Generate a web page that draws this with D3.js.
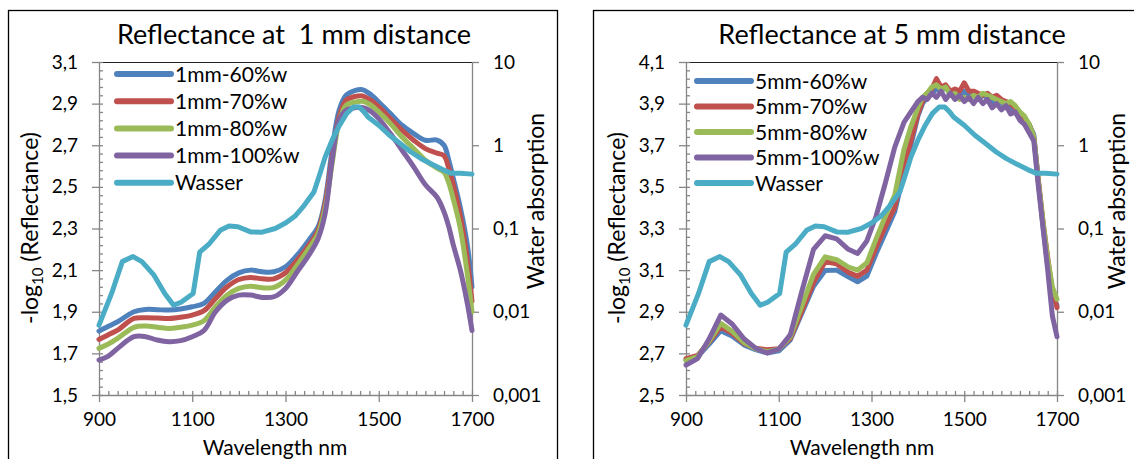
<!DOCTYPE html>
<html>
<head>
<meta charset="utf-8">
<script src="https://cdn.jsdelivr.net/npm/d3@7"></script>
<style>
  body { margin: 0; background: #fff; }
  svg text { font-family: Lato, "Open Sans", sans-serif; fill: #000; }
  .axis path, .axis line { stroke: #868686; stroke-width: 1.3px; }
  .axis text { font-size: 19px; }
  .line { fill: none; stroke-width: 5px; stroke-linejoin: round; stroke-linecap: round; }
</style>
</head>
<body>
<svg id="chart" width="1134" height="459"></svg>
<script>
// ---- data ----
var wl1mm = [900, 920, 940, 975, 1000, 1025, 1050, 1075, 1100, 1125, 1150, 1175, 1200, 1225, 1250, 1275, 1300, 1325, 1350, 1370,
  1385, 1400, 1415, 1430, 1450, 1465, 1480, 1500, 1525, 1550, 1575, 1600, 1625, 1640, 1650, 1660, 1675, 1690, 1700];
var mm1_60 = [1.807, 1.83, 1.852, 1.90, 1.911, 1.91, 1.908, 1.913, 1.924, 1.94, 1.996, 2.052, 2.087, 2.10, 2.092, 2.092, 2.116, 2.172, 2.244, 2.308,
  2.436, 2.676, 2.868, 2.94, 2.964, 2.967, 2.948, 2.908, 2.852, 2.796, 2.756, 2.724, 2.725, 2.70, 2.63, 2.54, 2.40, 2.22, 2.02];
var mm1_70 = [1.767, 1.79, 1.812, 1.868, 1.871, 1.87, 1.868, 1.874, 1.884, 1.905, 1.964, 2.02, 2.055, 2.065, 2.058, 2.058, 2.087, 2.148, 2.22, 2.292,
  2.42, 2.644, 2.836, 2.916, 2.935, 2.937, 2.92, 2.884, 2.828, 2.772, 2.724, 2.684, 2.662, 2.65, 2.59, 2.51, 2.36, 2.15, 1.95];
var mm1_80 = [1.724, 1.745, 1.772, 1.825, 1.831, 1.826, 1.82, 1.826, 1.836, 1.857, 1.924, 1.98, 2.012, 2.023, 2.015, 2.017, 2.052, 2.124, 2.204, 2.276,
  2.396, 2.612, 2.812, 2.892, 2.908, 2.911, 2.897, 2.86, 2.804, 2.74, 2.684, 2.628, 2.59, 2.57, 2.52, 2.44, 2.30, 2.08, 1.90];
var mm1_100 = [1.668, 1.687, 1.724, 1.78, 1.78, 1.764, 1.756, 1.761, 1.78, 1.81, 1.9, 1.956, 1.98, 1.98, 1.969, 1.972, 2.012, 2.092, 2.172, 2.252,
  2.372, 2.628, 2.82, 2.868, 2.881, 2.881, 2.868, 2.828, 2.756, 2.676, 2.596, 2.51, 2.45, 2.38, 2.31, 2.22, 2.10, 1.94, 1.81];

var wl5mm = [900, 925, 950, 975, 1000, 1025, 1050, 1075, 1100, 1125, 1150, 1175, 1200, 1225, 1250, 1270, 1290, 1310, 1330, 1350,
  1370, 1385, 1400, 1410, 1420, 1430, 1440, 1450, 1460, 1470, 1480, 1490, 1500, 1510, 1520, 1530, 1540, 1550, 1560, 1570,
  1580, 1590, 1600, 1610, 1620, 1630, 1640, 1650, 1660, 1670, 1680, 1690, 1700];
var mm5_60 = [2.668, 2.685, 2.745, 2.809, 2.782, 2.741, 2.718, 2.702, 2.712, 2.765, 2.894, 3.023, 3.098, 3.10, 3.068, 3.044, 3.071, 3.18, 3.28, 3.38,
  3.57, 3.70, 3.84, 3.90, 3.93, 3.95, 3.97, 3.96, 3.98, 3.95, 3.96, 3.93, 3.96, 3.94, 3.95, 3.92, 3.94, 3.93, 3.91, 3.90,
  3.91, 3.88, 3.89, 3.86, 3.85, 3.83, 3.80, 3.75, 3.52, 3.31, 3.12, 2.98, 2.93];
var mm5_70 = [2.675, 2.69, 2.755, 2.828, 2.795, 2.748, 2.725, 2.718, 2.722, 2.772, 2.905, 3.04, 3.14, 3.13, 3.09, 3.07, 3.10, 3.21, 3.31, 3.40,
  3.60, 3.72, 3.85, 3.91, 3.95, 3.97, 4.02, 3.98, 3.99, 3.96, 3.97, 3.96, 4.00, 3.96, 3.96, 3.95, 3.94, 3.95, 3.93, 3.94,
  3.92, 3.91, 3.90, 3.88, 3.85, 3.83, 3.80, 3.74, 3.53, 3.33, 3.16, 3.00, 2.92];
var mm5_80 = [2.665, 2.685, 2.76, 2.844, 2.805, 2.752, 2.722, 2.708, 2.72, 2.78, 2.93, 3.08, 3.164, 3.15, 3.115, 3.10, 3.135, 3.25, 3.36, 3.46,
  3.68, 3.79, 3.88, 3.93, 3.95, 3.98, 3.99, 3.97, 3.98, 3.94, 3.95, 3.92, 3.93, 3.92, 3.94, 3.93, 3.95, 3.94, 3.93, 3.92,
  3.91, 3.90, 3.91, 3.89, 3.86, 3.84, 3.80, 3.74, 3.52, 3.33, 3.15, 3.02, 2.96];
var mm5_100 = [2.644, 2.675, 2.77, 2.884, 2.84, 2.77, 2.725, 2.702, 2.72, 2.79, 3.00, 3.20, 3.265, 3.25, 3.20, 3.18, 3.24, 3.36, 3.52, 3.69,
  3.81, 3.86, 3.91, 3.93, 3.92, 3.95, 3.93, 3.96, 3.92, 3.95, 3.92, 3.94, 3.91, 3.93, 3.90, 3.93, 3.90, 3.92, 3.88, 3.90,
  3.87, 3.89, 3.85, 3.86, 3.82, 3.80, 3.76, 3.72, 3.50, 3.30, 3.10, 2.88, 2.78];

// water absorption (secondary, log axis) - same in both charts
var wlWater = [900, 927, 950, 973, 992, 1018, 1041, 1060, 1076, 1102, 1116, 1137, 1160, 1179, 1198, 1225, 1248, 1278, 1301, 1320,
  1339, 1361, 1374, 1385, 1400, 1416, 1431, 1446, 1458, 1469, 1477, 1500, 1523, 1546, 1569, 1591, 1614, 1637, 1656, 1675, 1700];
var water = [0.0069, 0.0166, 0.040, 0.046, 0.040, 0.0275, 0.0166, 0.012, 0.013, 0.0166, 0.052, 0.066, 0.095, 0.107, 0.105, 0.091, 0.090, 0.100, 0.117, 0.14,
  0.186, 0.275, 0.457, 0.72, 1.15, 1.74, 2.4, 2.88, 2.88, 2.5, 2.19, 1.74, 1.32, 1.05, 0.83, 0.69, 0.59, 0.51, 0.46, 0.46, 0.45];

var xTicks = [900, 1100, 1300, 1500, 1700];
var yTicks1mm = [1.5, 1.7, 1.9, 2.1, 2.3, 2.5, 2.7, 2.9, 3.1];
var yTicks5mm = [2.5, 2.7, 2.9, 3.1, 3.3, 3.5, 3.7, 3.9, 4.1];
var waterTicks = [0.001, 0.01, 0.1, 1, 10];
var waterLabels = ['0,001', '0,01', '0,1', '1', '10'];
var colors = ['#4F81BD', '#C0504D', '#9BBB59', '#8064A2', '#4BACC6'];

var svg = d3.select('#chart');

function drawPanel(o) {
  var g = svg.append('g');

  // chart frame
  g.append('rect')
    .attr('x', o.frame[0] + 0.5).attr('y', 10.5)
    .attr('width', o.frame[1]).attr('height', 470)
    .attr('fill', 'none').attr('stroke', '#000').attr('stroke-width', 1.3);

  var x = d3.scaleLinear().domain([900, 1700]).range([o.x0, o.x1]);
  var y = d3.scaleLinear().domain(o.yDomain).range([395, 62]);
  var yR = d3.scaleLog().domain([0.001, 10]).range([395, 62]);

  // plot area border (top)
  g.append('line')
    .attr('x1', o.x0).attr('x2', o.x1).attr('y1', 62.5).attr('y2', 62.5)
    .attr('stroke', '#222').attr('stroke-width', 1);

  // minor ticks
  var yMinor = d3.range(o.yDomain[0], o.yDomain[1] + 0.001, 0.04);
  g.append('g').attr('class', 'axis').attr('transform', 'translate(' + o.x0 + ',0)')
    .call(d3.axisLeft(y).tickValues(yMinor).tickSize(-4).tickSizeOuter(0).tickFormat(''))
    .select('.domain').remove();
  g.append('g').attr('class', 'axis').attr('transform', 'translate(0,395)')
    .call(d3.axisBottom(x).tickValues(d3.range(900, 1701, 20)).tickSize(-4).tickSizeOuter(0).tickFormat(''))
    .select('.domain').remove();

  // major axes
  g.append('g').attr('class', 'axis').attr('transform', 'translate(' + o.x0 + ',0)')
    .call(d3.axisLeft(y).tickValues(o.yTicks).tickSize(7).tickSizeOuter(0).tickPadding(14)
      .tickFormat(function (d) { return d.toFixed(1).replace('.', ','); }));
  g.append('g').attr('class', 'axis').attr('transform', 'translate(' + o.x1 + ',0)')
    .call(d3.axisRight(yR).tickValues(waterTicks).tickSize(7).tickSizeOuter(0).tickPadding(14)
      .tickFormat(function (d, i) { return waterLabels[i]; }));
  g.append('g').attr('class', 'axis').attr('transform', 'translate(0,395)')
    .call(d3.axisBottom(x).tickValues(xTicks).tickSize(7).tickSizeOuter(0).tickPadding(11)
      .tickFormat(d3.format('d')));

  // series
  var line = d3.line()
    .x(function (d) { return x(d[0]); })
    .y(function (d) { return y(d[1]); })
    .curve(o.curve);
  o.series.forEach(function (s, i) {
    g.append('path').attr('class', 'line')
      .attr('d', line(o.wl.map(function (w, j) { return [w, s[j]]; })))
      .attr('stroke', colors[i]);
  });
  var wline = d3.line()
    .x(function (d) { return x(d[0]); })
    .y(function (d) { return yR(d[1]); });
  g.append('path').attr('class', 'line')
    .attr('d', wline(wlWater.map(function (w, j) { return [w, water[j]]; })))
    .attr('stroke', colors[4]);

  // legend
  o.names.forEach(function (n, i) {
    var ly = o.legend[1] + i * o.legend[2];
    g.append('line')
      .attr('x1', o.legend[0]).attr('x2', o.legend[0] + 54)
      .attr('y1', ly).attr('y2', ly)
      .attr('stroke', colors[i]).attr('stroke-width', 6).attr('stroke-linecap', 'round');
    g.append('text')
      .attr('x', o.legend[0] + 58).attr('y', ly).attr('dy', '0.36em')
      .style('font-size', '21px').text(n);
  });

  // titles
  g.append('text')
    .attr('x', o.titleX).attr('y', 44).attr('text-anchor', 'middle')
    .style('font-size', '27px').style('white-space', 'pre').text(o.title);
  g.append('text')
    .attr('x', o.x0 + 176).attr('y', 455).attr('text-anchor', 'middle')
    .style('font-size', '21px').text('Wavelength nm');

  var yl = g.append('text')
    .attr('transform', 'translate(' + (o.x0 - 61) + ',228) rotate(-90)')
    .attr('text-anchor', 'middle').style('font-size', '23px');
  yl.append('tspan').text('-log');
  yl.append('tspan').attr('dy', 5).style('font-size', '15px').text('10');
  yl.append('tspan').attr('dy', -5).text(' (Reflectance)');

  g.append('text')
    .attr('transform', 'translate(' + (o.x1 + o.rtOff) + ',201) rotate(-90)')
    .attr('text-anchor', 'middle').style('font-size', '23px').text('Water absorption');
}

drawPanel({
  frame: [8, 549], x0: 99, x1: 472, rtOff: 72,
  yDomain: [1.5, 3.1], yTicks: yTicks1mm,
  wl: wl1mm, series: [mm1_60, mm1_70, mm1_80, mm1_100],
  curve: d3.curveCatmullRom.alpha(0.5),
  names: ['1mm-60%w', '1mm-70%w', '1mm-80%w', '1mm-100%w', 'Wasser'],
  legend: [117, 74, 27.2],
  title: 'Reflectance at\u00a0 1 mm distance', titleX: 294
});

drawPanel({
  frame: [593, 600], x0: 686, x1: 1057, rtOff: 68,
  yDomain: [2.5, 4.1], yTicks: yTicks5mm,
  wl: wl5mm, series: [mm5_60, mm5_70, mm5_80, mm5_100],
  curve: d3.curveLinear,
  names: ['5mm-60%w', '5mm-70%w', '5mm-80%w', '5mm-100%w', 'Wasser'],
  legend: [697, 81, 25.5],
  title: 'Reflectance at 5 mm distance', titleX: 892
});
</script>
</body>
</html>
